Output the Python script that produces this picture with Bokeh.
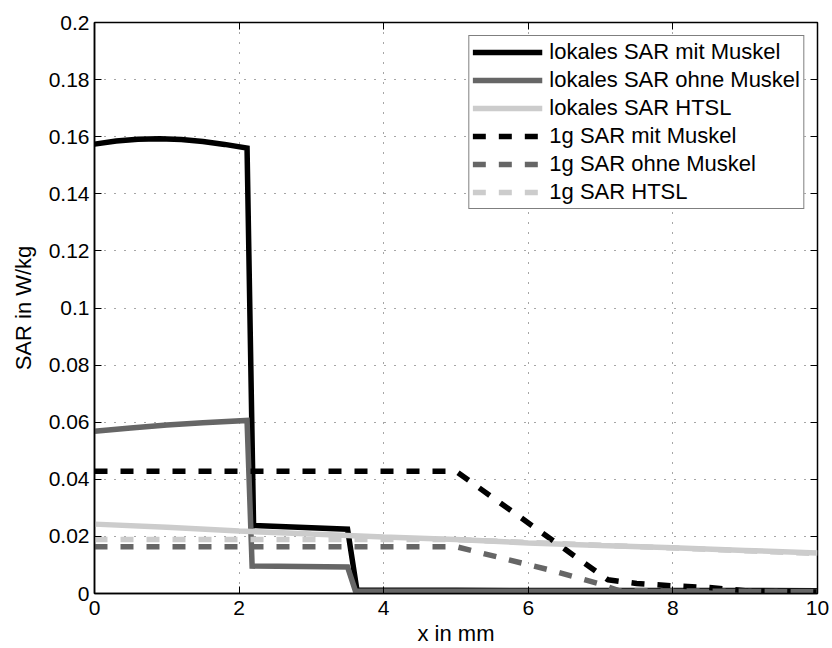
from bokeh.plotting import figure
from bokeh.models import (Range1d, FixedTicker, LinearAxis, CustomJSTickFormatter,
                          Legend, LegendItem)
from bokeh.embed import file_html
from bokeh.resources import INLINE

# ---------------- data ----------------
x_local_mit = [0, 0.3, 0.6, 0.9, 1.2, 1.5, 1.8, 2.11, 2.2, 3.5, 3.63, 5, 10]
sar_local_mit = [0.1574, 0.1585, 0.1591, 0.1593, 0.1590, 0.1583, 0.1573, 0.1560,
                 0.0238, 0.0225, 0.0012, 0.0011, 0.0010]

x_local_ohne = [0, 0.5, 1.0, 1.5, 2.11, 2.18, 3.5, 3.61, 5, 10]
sar_local_ohne = [0.0568, 0.0580, 0.0590, 0.0598, 0.0606, 0.0096, 0.0093, 0.0008,
                  0.0008, 0.0007]

x_local_htsl = [0, 1, 2, 3, 4, 5, 6, 7, 8, 9, 10]
sar_local_htsl = [0.0243, 0.0232, 0.0219, 0.0208, 0.0198, 0.0189, 0.0177, 0.0168,
                  0.0160, 0.0151, 0.0142]

x_1g_mit = [0, 5.0, 7.1, 7.5, 8.0, 8.5, 9.0, 10]
sar_1g_mit = [0.0428, 0.0428, 0.0048, 0.0035, 0.0027, 0.0021, 0.0010, 0.0005]

x_1g_ohne = [0, 5.0, 6.27, 6.97, 7.25, 10]
sar_1g_ohne = [0.0164, 0.0164, 0.0084, 0.0035, 0.0010, 0.0006]

x_1g_htsl = [0, 5.0, 10]
sar_1g_htsl = [0.0189, 0.0189, 0.0140]

series_labels = ["lokales SAR mit Muskel", "lokales SAR ohne Muskel", "lokales SAR HTSL",
                 "1g SAR mit Muskel", "1g SAR ohne Muskel", "1g SAR HTSL"]

x_ticks = [0, 2, 4, 6, 8, 10]
x_tick_labels = ["0", "2", "4", "6", "8", "10"]
y_ticks = [0, 0.02, 0.04, 0.06, 0.08, 0.1, 0.12, 0.14, 0.16, 0.18, 0.2]
y_tick_labels = ["0", "0.02", "0.04", "0.06", "0.08", "0.1", "0.12", "0.14", "0.16",
                 "0.18", "0.2"]

x_label = "x in mm"
y_label = "SAR in W/kg"

# ---------------- styling ----------------
FONT = "Liberation Sans"
BLACK = "#000000"
GRAY = "#666666"
LIGHT = "#cccccc"
LW = 5.5
DASH = "13 13"

p = figure(width=829, height=648,
           x_range=Range1d(0, 10), y_range=Range1d(0, 0.2),
           output_backend="svg", toolbar_location=None,
           min_border_left=94, min_border_right=12,
           min_border_top=22, min_border_bottom=40)

p.background_fill_color = "white"
p.border_fill_color = "white"
p.outline_line_color = "black"
p.outline_line_width = 1.5

fmt_code = """
const i = tvals.findIndex(t => Math.abs(t - tick) < 1e-9);
return i >= 0 ? tlabels[i] : '';
"""

def style_axis(ax, tick_vals, tick_labels, show_labels=True):
    ax.ticker = FixedTicker(ticks=tick_vals)
    ax.formatter = CustomJSTickFormatter(args=dict(tvals=tick_vals, tlabels=tick_labels),
                                         code=fmt_code)
    ax.major_tick_in = 7
    ax.major_tick_out = 0
    ax.major_tick_line_color = "black"
    ax.major_tick_line_width = 1
    ax.minor_tick_line_color = None
    ax.axis_line_color = "black"
    ax.axis_line_width = 1.5
    ax.major_label_text_font = FONT
    if show_labels:
        ax.major_label_text_color = "black"
        ax.major_label_text_font_size = "21px"
        ax.major_label_standoff = 7
    else:
        ax.major_label_text_color = None
        ax.major_label_text_font_size = "0px"
        ax.major_label_standoff = 0

style_axis(p.xaxis[0], x_ticks, x_tick_labels)
style_axis(p.yaxis[0], y_ticks, y_tick_labels)
p.yaxis.major_label_standoff = 5

p.xaxis.axis_label = x_label
p.yaxis.axis_label = y_label
for ax in (p.xaxis[0], p.yaxis[0]):
    ax.axis_label_text_font = FONT
    ax.axis_label_text_font_size = "22px"
    ax.axis_label_text_font_style = "normal"
    ax.axis_label_text_color = "black"
p.xaxis.axis_label_standoff = 3
p.yaxis.axis_label_standoff = 10

top_ax = LinearAxis()
style_axis(top_ax, x_ticks, x_tick_labels, show_labels=False)
top_ax.axis_line_color = None
p.add_layout(top_ax, "above")
right_ax = LinearAxis()
style_axis(right_ax, y_ticks, y_tick_labels, show_labels=False)
right_ax.axis_line_color = None
p.add_layout(right_ax, "right")

for g, tv in ((p.xgrid[0], x_ticks), (p.ygrid[0], y_ticks)):
    g.ticker = FixedTicker(ticks=tv)
    g.grid_line_color = "black"
    g.grid_line_alpha = 0.7
    g.grid_line_dash = "1 9"
    g.grid_line_width = 1

r1 = p.line(x_local_mit, sar_local_mit, line_color=BLACK, line_width=LW, line_join="miter")
r2 = p.line(x_local_ohne, sar_local_ohne, line_color=GRAY, line_width=LW, line_join="miter")
r3 = p.line(x_local_htsl, sar_local_htsl, line_color=LIGHT, line_width=LW)
r4 = p.line(x_1g_mit, sar_1g_mit, line_color=BLACK, line_width=LW, line_dash=DASH)
r5 = p.line(x_1g_ohne, sar_1g_ohne, line_color=GRAY, line_width=LW, line_dash=DASH)
r6 = p.line(x_1g_htsl, sar_1g_htsl, line_color=LIGHT, line_width=LW, line_dash=DASH)

items = [LegendItem(label=lbl, renderers=[r]) for lbl, r in
         zip(series_labels, [r1, r2, r3, r4, r5, r6])]
legend = Legend(items=items, location="top_right")
legend.label_text_font = FONT
legend.label_text_font_size = "22px"
legend.label_text_color = "black"
legend.glyph_width = 70
legend.glyph_height = 22
legend.label_height = 22
legend.label_standoff = 7
legend.spacing = 2
legend.padding = 3
legend.margin = 13
legend.border_line_color = "black"
legend.border_line_width = 1.5
legend.background_fill_color = "white"
legend.background_fill_alpha = 1.0
p.add_layout(legend, "center")

with open("out.html", "w") as f:
    f.write(file_html(p, INLINE))
